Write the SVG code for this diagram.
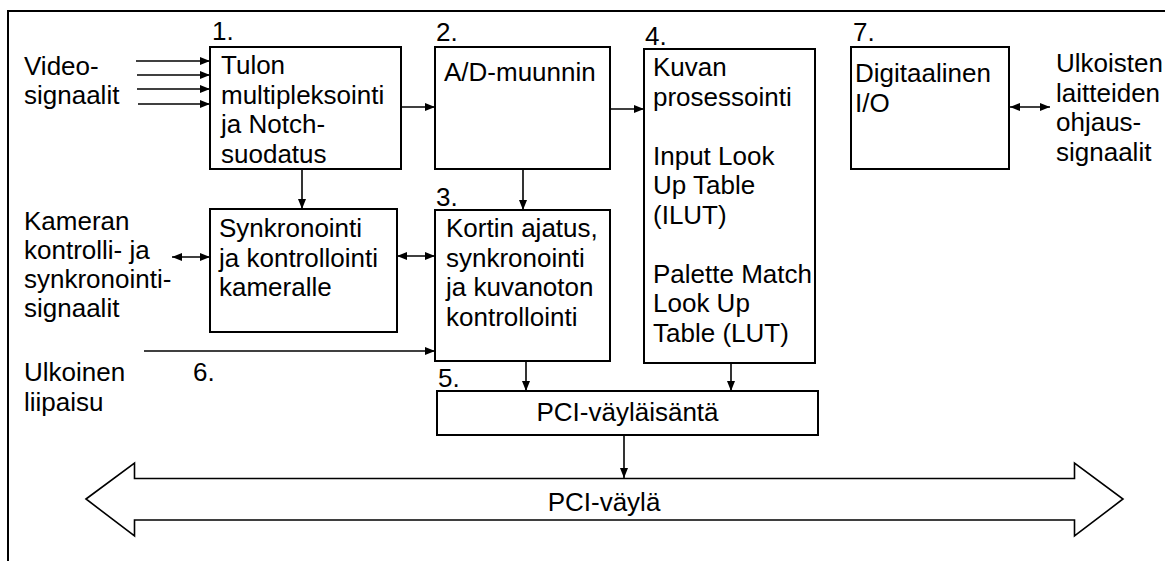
<svg xmlns="http://www.w3.org/2000/svg" width="1165" height="561" viewBox="0 0 1165 561">
<style>
text{font-family:"Liberation Sans",Arial,sans-serif;font-size:26px;fill:#000}
.box{fill:#fff;stroke:#000;stroke-width:2}
.ln{fill:none;stroke:#000;stroke-width:1.6}
</style>
<defs>
<marker id="ah" viewBox="0 0 10 8" refX="10" refY="4" markerWidth="10" markerHeight="8" orient="auto-start-reverse" markerUnits="userSpaceOnUse"><path d="M0,0 L10,4 L0,8 z" fill="#000"/></marker>
</defs>
<rect width="1165" height="561" fill="#fff"/>
<rect x="8" y="11" width="1200" height="600" fill="none" stroke="#000" stroke-width="2"/>

<g id="connectors">
<line class="ln" x1="136" y1="61" x2="210" y2="61" marker-end="url(#ah)"/>
<line class="ln" x1="137" y1="75" x2="210" y2="75" marker-end="url(#ah)"/>
<line class="ln" x1="137" y1="89" x2="210" y2="89" marker-end="url(#ah)"/>
<line class="ln" x1="138" y1="104" x2="210" y2="104" marker-end="url(#ah)"/>
<line class="ln" x1="401" y1="107" x2="435" y2="107" marker-end="url(#ah)"/>
<line class="ln" x1="610" y1="109" x2="644" y2="109" marker-end="url(#ah)"/>
<line class="ln" x1="1010" y1="107" x2="1050" y2="107" marker-start="url(#ah)" marker-end="url(#ah)"/>
<line class="ln" x1="302" y1="169" x2="302" y2="209" marker-end="url(#ah)"/>
<line class="ln" x1="523" y1="169" x2="523" y2="210" marker-end="url(#ah)"/>
<line class="ln" x1="172" y1="257" x2="210" y2="257" marker-start="url(#ah)" marker-end="url(#ah)"/>
<line class="ln" x1="397" y1="256" x2="435" y2="256" marker-start="url(#ah)" marker-end="url(#ah)"/>
<line class="ln" x1="144" y1="351" x2="435" y2="351" marker-end="url(#ah)"/>
<line class="ln" x1="526" y1="361" x2="526" y2="391" marker-end="url(#ah)"/>
<line class="ln" x1="731" y1="363" x2="731" y2="391" marker-end="url(#ah)"/>
<line class="ln" x1="624" y1="435" x2="624" y2="478" marker-end="url(#ah)"/>
</g>

<g id="labels">
<text x="24" y="75">Video-</text>
<text x="24" y="103.5">signaalit</text>
<text x="24" y="230">Kameran</text>
<text x="24" y="259">kontrolli- ja</text>
<text x="24" y="288">synkronointi-</text>
<text x="24" y="317">signaalit</text>
<text x="24" y="381">Ulkoinen</text>
<text x="24" y="410.5">liipaisu</text>
<text x="193" y="381">6.</text>
<text x="1056" y="72">Ulkoisten</text>
<text x="1056" y="101.5">laitteiden</text>
<text x="1056" y="131">ohjaus-</text>
<text x="1056" y="160.5">signaalit</text>
</g>

<g id="node1">
<text x="212" y="40">1.</text>
<rect class="box" x="210" y="47" width="191" height="122"/>
<text x="221" y="74">Tulon</text>
<text x="221" y="103.5">multipleksointi</text>
<text x="221" y="133">ja Notch-</text>
<text x="221" y="162.5">suodatus</text>
</g>

<g id="node2">
<text x="436" y="41">2.</text>
<rect class="box" x="435" y="47" width="175" height="122"/>
<text x="444" y="81">A/D-muunnin</text>
</g>

<g id="node4">
<text x="645" y="45">4.</text>
<rect class="box" x="644" y="49" width="171" height="314"/>
<text x="653" y="76">Kuvan</text>
<text x="653" y="105.5">prosessointi</text>
<text x="653" y="164.5">Input Look</text>
<text x="653" y="194">Up Table</text>
<text x="653" y="223.5">(ILUT)</text>
<text x="653" y="282.5">Palette Match</text>
<text x="653" y="312">Look Up</text>
<text x="653" y="341.5">Table (LUT)</text>
</g>

<g id="node7">
<text x="853" y="41">7.</text>
<rect class="box" x="851" y="47" width="158" height="122"/>
<text x="855" y="82">Digitaalinen</text>
<text x="855" y="111.5">I/O</text>
</g>

<g id="nodeSync">
<rect class="box" x="210" y="209" width="187" height="123"/>
<text x="219" y="237">Synkronointi</text>
<text x="219" y="266.5">ja kontrollointi</text>
<text x="219" y="296">kameralle</text>
</g>

<g id="node3">
<text x="436" y="206">3.</text>
<rect class="box" x="435" y="210" width="175" height="151"/>
<text x="446" y="237">Kortin ajatus,</text>
<text x="446" y="266.5">synkronointi</text>
<text x="446" y="296">ja kuvanoton</text>
<text x="446" y="325.5">kontrollointi</text>
</g>

<g id="node5">
<text x="438" y="387">5.</text>
<rect class="box" x="437" y="391" width="381" height="44"/>
<text x="627.5" y="421" text-anchor="middle">PCI-väyläisäntä</text>
</g>

<g id="bus">
<path d="M86,499 L134.5,463 L134.5,478.5 L1074.5,478.5 L1074.5,463 L1123,499 L1074.5,536 L1074.5,520 L134.5,520 L134.5,536 Z" fill="#fff" stroke="#000" stroke-width="1.6"/>
<text x="604" y="511" text-anchor="middle">PCI-väylä</text>
</g>
</svg>
